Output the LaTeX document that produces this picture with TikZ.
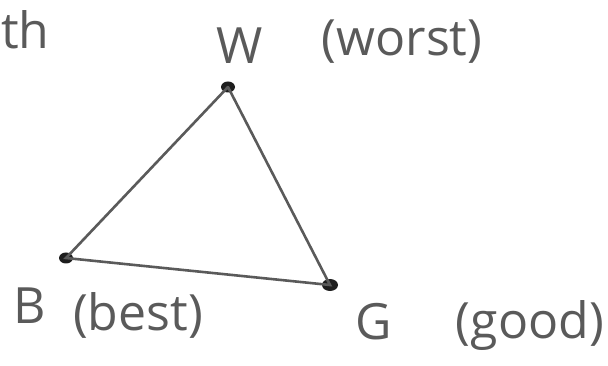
\documentclass[tikz,border=0pt]{standalone}
\usepackage{fontspec}
\usetikzlibrary{shapes.geometric}
\setmainfont{Open Sans}
\definecolor{ink}{HTML}{5A5A5A}
\definecolor{dotc}{HTML}{1E1E1E}
\begin{document}
\begin{tikzpicture}[x=1pt,y=-1pt,
  lbl/.style={text=ink,font=\fontsize{50}{54}\selectfont, inner sep=0pt},
  side/.style={draw=ink,line width=2.6pt,line cap=round},
  vtx/.style={ellipse,fill=dotc,minimum width=14pt,minimum height=11pt,inner sep=0pt}]
\useasboundingbox (0,0) rectangle (608,366);
\node[vtx] (W) at (228,87) {};
\node[vtx] (B) at (66,258) {};
\node[vtx,minimum width=16pt,minimum height=12pt] (G) at (330,285) {};
\draw[side] (W.center) -- (B.center) -- (G.center) -- (W.center);
\node[lbl,anchor=west] (th) at (1,30) {th};
\node[lbl] (wl) at (240,46) {W};
\node[lbl] (wt) at (402,42) {(worst)};
\node[lbl] (bl) at (30,306) {B};
\node[lbl] (bt) at (138,315) {(best)};
\node[lbl] (gl) at (374,322) {G};
\node[lbl] (gt) at (530,326) {(good)};
\end{tikzpicture}
\end{document}
